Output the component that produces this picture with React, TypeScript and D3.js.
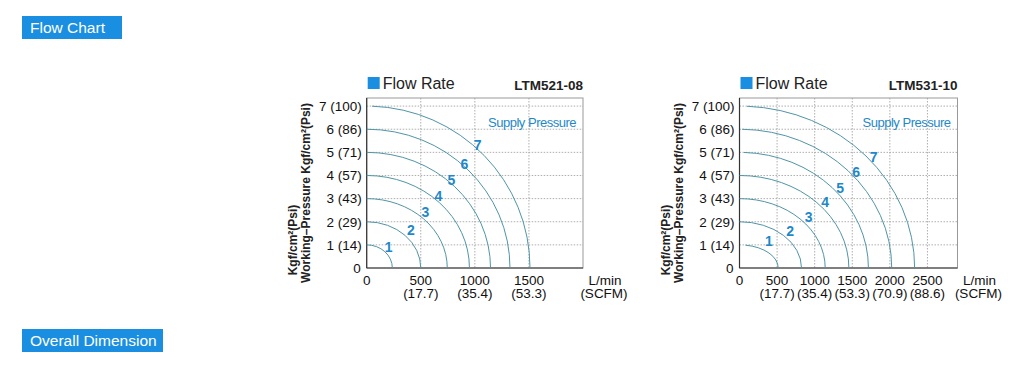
import React from 'react';
import * as d3 from 'd3';

// supply pressure levels (kgf/cm2) and matching psi labels
const pressures = [1, 2, 3, 4, 5, 6, 7];
const psi = [14, 29, 43, 57, 71, 86, 100];

// LTM521-08
const leftTicks = [0, 500, 1000, 1500];
const leftScfm = ['17.7', '35.4', '53.3'];
const leftMaxFlow = [237, 500, 745, 950, 1145, 1325, 1510];
const leftStartFlow = [0, 0, 0, 0, 0, 0, 50];
const leftLabelFlow = [202, 409, 542, 662, 783, 903, 1025];
const leftLabelPres = [0.93, 1.65, 2.41, 3.1, 3.8, 4.48, 5.34];

// LTM531-10
const rightTicks = [0, 500, 1000, 1500, 2000, 2500];
const rightScfm = ['17.7', '35.4', '53.3', '70.9', '88.6'];
const rightMaxFlow = [515, 825, 1140, 1455, 1715, 2025, 2330];
const rightStartFlow = [80, 0, 0, 0, 60, 35, 100];
const rightLabelFlow = [390, 675, 920, 1141, 1340, 1553, 1783];
const rightLabelPres = [1.15, 1.6, 2.22, 2.85, 3.47, 4.16, 4.81];

const BLUE = '#1a8ee0';
const LABEL_BLUE = '#1e88c8';
const FONT = 'Arial, "Liberation Sans", sans-serif';

type ChartProps = {
  left: number;
  right: number;
  xMax: number;
  model: string;
  ticks: number[];
  scfm: string[];
  maxFlow: number[];
  startFlow: number[];
  labelFlow: number[];
  labelPres: number[];
};

const Chart = ({ left, right, xMax, model, ticks, scfm, maxFlow, startFlow, labelFlow, labelPres }: ChartProps) => {
  const top = 98;
  const bottom = 268;
  const x = d3.scaleLinear().domain([0, xMax]).range([left, right]);
  const y = d3.scaleLinear().domain([0, 7.35]).range([bottom, top]);

  // quarter ellipse from (start, p) down to (maxFlow, 0)
  const curvePath = (i: number) => {
    const p = pressures[i];
    const q = maxFlow[i];
    const s = startFlow[i];
    const rx = x(q) - x(0);
    const ry = y(0) - y(p);
    const y0 = p * Math.sqrt(1 - (s / q) * (s / q));
    return `M${x(s)},${y(y0)} A${rx},${ry} 0 0 1 ${x(q)},${y(0)}`;
  };

  return (
    <g fontFamily={FONT}>
      {/* title */}
      <rect x={left + 1} y={77} width={12} height={12} fill={BLUE} />
      <text x={left + 16} y={89} fontSize={16} fill="#222">Flow Rate</text>
      <text x={right} y={90} fontSize={13.5} fontWeight="bold" fill="#222" textAnchor="end">{model}</text>

      {/* grid */}
      {pressures.map(p => (
        <line key={'h' + p} x1={left} x2={right} y1={y(p)} y2={y(p)} stroke="#999" strokeWidth={0.8} strokeDasharray="1.5,1.5" />
      ))}
      {ticks.slice(1).map(t => (
        <line key={'v' + t} x1={x(t)} x2={x(t)} y1={top} y2={bottom} stroke="#999" strokeWidth={0.8} strokeDasharray="1.5,1.5" />
      ))}

      {/* frame */}
      <rect x={left} y={top} width={right - left} height={bottom - top} fill="none" stroke="#999" strokeWidth={1} />
      <line x1={left} x2={left} y1={top} y2={bottom} stroke="#333" strokeWidth={1.2} />
      <line x1={left} x2={right} y1={bottom} y2={bottom} stroke="#333" strokeWidth={1.2} />

      {/* curves */}
      {pressures.map((p, i) => (
        <path key={'c' + p} d={curvePath(i)} fill="none" stroke="#4f95a6" strokeWidth={1} />
      ))}
      {pressures.map((p, i) => (
        <text key={'l' + p} x={x(labelFlow[i])} y={y(labelPres[i])} dy="0.36em" textAnchor="middle"
          fontSize={14} fontWeight="bold" fill={LABEL_BLUE}>{p}</text>
      ))}
      <text x={right - 7} y={127} fontSize={13} fill={LABEL_BLUE} textAnchor="end" letterSpacing={-0.5}>Supply Pressure</text>

      {/* y axis labels */}
      <text x={left - 6} y={y(0)} dy="0.36em" textAnchor="end" fontSize={13.5} fill="#111">0</text>
      {pressures.map((p, i) => (
        <text key={'y' + p} x={left - 5} y={y(p)} dy="0.36em" textAnchor="end" fontSize={13.5} fill="#111">
          {`${p} (${psi[i]})`}
        </text>
      ))}
      <g transform={`translate(${left - 74},${bottom - 28}) rotate(-90)`}>
        <text x={0} y={0} dy="0.36em" textAnchor="middle" fontSize={12} fontWeight="bold" fill="#222">Kgf/cm²(Psi)</text>
      </g>
      <g transform={`translate(${left - 61},${bottom - 75}) rotate(-90)`}>
        <text x={0} y={0} dy="0.36em" textAnchor="middle" fontSize={12} fontWeight="bold" fill="#222">Working–Pressure Kgf/cm²(Psi)</text>
      </g>

      {/* x axis labels */}
      {ticks.map(t => (
        <text key={'x' + t} x={x(t)} y={285} textAnchor="middle" fontSize={13.5} fill="#111">{t}</text>
      ))}
      {scfm.map((s, i) => (
        <text key={'s' + s} x={x(ticks[i + 1])} y={298} textAnchor="middle" fontSize={13.5} fill="#111">{`(${s})`}</text>
      ))}
      <text x={right + 22} y={285} textAnchor="middle" fontSize={13.5} fill="#111">L/min</text>
      <text x={right + 21} y={298} textAnchor="middle" fontSize={13.5} fill="#111">(SCFM)</text>
    </g>
  );
};

const Header = ({ y, w, label }: { y: number; w: number; label: string }) => (
  <g fontFamily={FONT}>
    <rect x={22} y={y} width={w} height={23} fill={BLUE} />
    <text x={30} y={y + 17} fontSize={15.5} fill="#fff">{label}</text>
  </g>
);

export default function App() {
  return (
    <svg width={1018} height={370} style={{ position: 'absolute', left: 0, top: 0, background: '#fff' }}>
      <Header y={16} w={100} label="Flow Chart" />
      <Header y={329} w={141} label="Overall Dimension" />
      <Chart left={366.7} right={583} xMax={2000} model="LTM521-08" ticks={leftTicks} scfm={leftScfm}
        maxFlow={leftMaxFlow} startFlow={leftStartFlow} labelFlow={leftLabelFlow} labelPres={leftLabelPres} />
      <Chart left={739.5} right={957.5} xMax={2900} model="LTM531-10" ticks={rightTicks} scfm={rightScfm}
        maxFlow={rightMaxFlow} startFlow={rightStartFlow} labelFlow={rightLabelFlow} labelPres={rightLabelPres} />
    </svg>
  );
}
